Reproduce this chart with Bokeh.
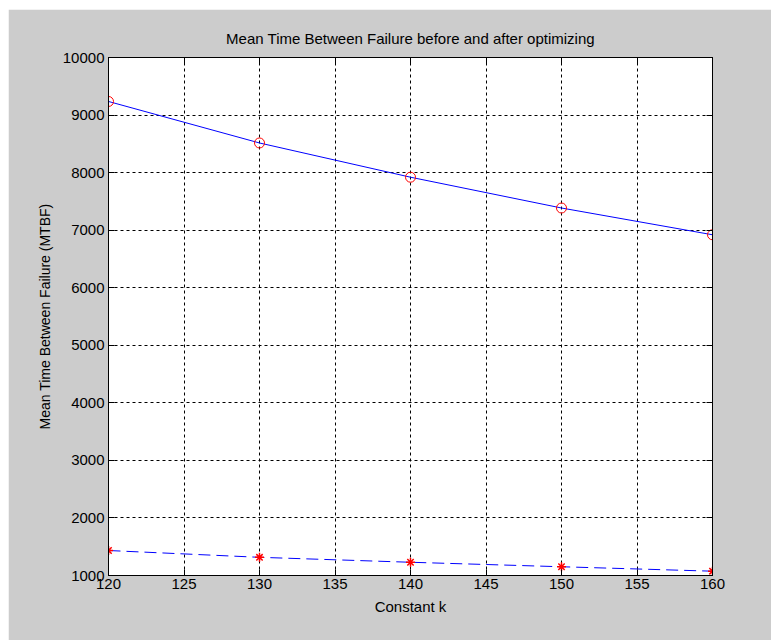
from bokeh.plotting import figure
from bokeh.models import LinearAxis, FixedTicker, Range1d, CustomLabelingPolicy
from bokeh.embed import file_html
from bokeh.resources import INLINE

k_values = [120, 130, 140, 150, 160]
mtbf_after = [9236, 8515, 7920, 7385, 6920]
mtbf_before = [1434, 1316, 1230, 1152, 1075]
x_ticks = [120, 125, 130, 135, 140, 145, 150, 155, 160]
y_ticks = [1000, 2000, 3000, 4000, 5000, 6000, 7000, 8000, 9000, 10000]

FONT = "Liberation Sans"
BG = "#cccccc"

p = figure(width=763, height=631, output_backend="svg", toolbar_location=None,
           x_range=Range1d(120, 160), y_range=Range1d(1000, 10000),
           title="Mean Time Between Failure before and after optimizing",
           background_fill_color="white", border_fill_color=BG,
           min_border_left=100, min_border_right=59, min_border_top=48, min_border_bottom=65)
p.margin = (9, 0, 0, 8)

p.outline_line_color = "black"
p.outline_line_width = 1

p.title.text_font = FONT
p.title.text_font_size = "15px"
p.title.text_font_style = "normal"
p.title.align = "center"
p.title.text_color = "black"
p.title.standoff = 0

p.xaxis.ticker = FixedTicker(ticks=x_ticks)
p.yaxis.ticker = FixedTicker(ticks=y_ticks)
p.xaxis.axis_label = "Constant k"
p.yaxis.axis_label = "Mean Time Between Failure (MTBF)"

for ax in [p.xaxis[0], p.yaxis[0]]:
    ax.major_label_text_font = FONT
    ax.major_label_text_font_size = "15px"
    ax.major_label_text_color = "black"
    ax.axis_label_text_font = FONT
    ax.axis_label_text_font_style = "normal"
    ax.axis_label_text_color = "black"
    ax.major_tick_in = 6
    ax.major_tick_out = 0
    ax.minor_tick_line_color = None
    ax.axis_line_color = "black"
    ax.major_tick_line_color = "black"
p.xaxis.axis_label_text_font_size = "15px"
p.yaxis.axis_label_text_font_size = "14px"
p.xaxis.major_label_standoff = 3
p.yaxis.major_label_standoff = 4
p.yaxis.axis_label_standoff = 7
p.xaxis.axis_label_standoff = 6

for loc in ["right", "above"]:
    ticks = y_ticks if loc == "right" else x_ticks
    ax = LinearAxis(ticker=FixedTicker(ticks=ticks),
                    major_label_policy=CustomLabelingPolicy(code="return []"),
                    major_label_standoff=0, major_tick_in=6, major_tick_out=0,
                    minor_tick_line_color=None, axis_line_color="black",
                    major_tick_line_color="black")
    p.add_layout(ax, loc)

p.xgrid.grid_line_color = "black"
p.ygrid.grid_line_color = "black"
p.xgrid.grid_line_dash = "3 3"
p.ygrid.grid_line_dash = "3 3"
p.xgrid.grid_line_width = 1
p.ygrid.grid_line_width = 1

p.line(k_values, mtbf_after, line_color="#0000ff", line_width=1)
p.scatter(k_values, mtbf_after, marker="circle", size=10, line_color="#ff0000",
          fill_color=None, line_width=1)

p.line(k_values, mtbf_before, line_color="#0000ff", line_width=1, line_dash="12 6")
p.scatter(k_values, mtbf_before, marker="asterisk", size=9, line_color="#ff0000",
          line_width=1.5)

open("out.html", "w").write(file_html(p, INLINE))
